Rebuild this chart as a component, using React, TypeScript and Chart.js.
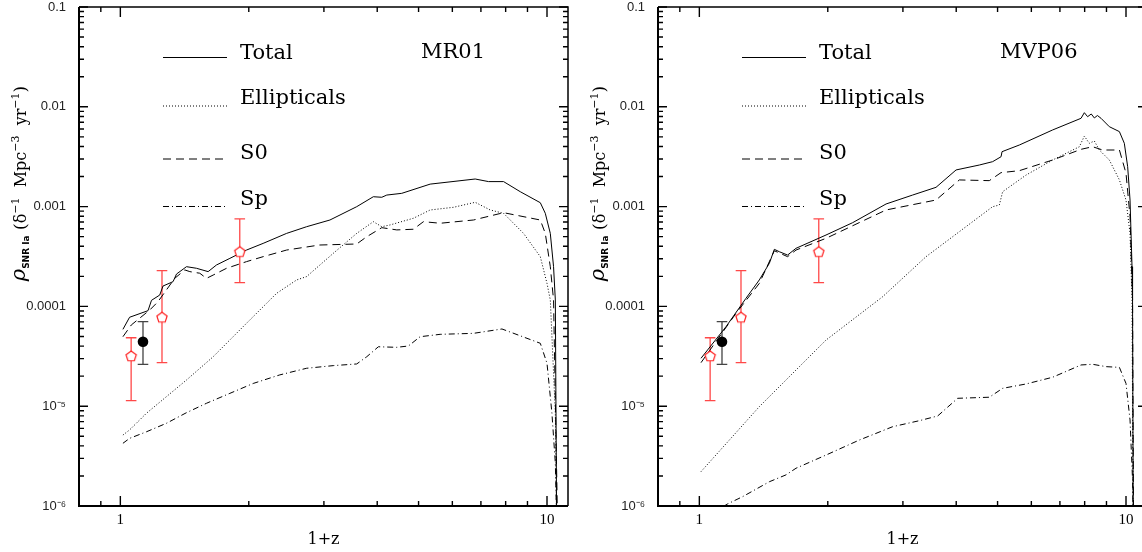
import React, { useEffect, useRef } from 'react';
import { Chart, registerables } from 'chart.js';

Chart.register(...registerables);

// ---------------- data ----------------
const xTickValues = [1, 10];
const xTickLabels = ['1', '10'];
const yTickValues = [1e-6, 1e-5, 1e-4, 1e-3, 1e-2, 1e-1];
const yTickLabels = ['10⁻⁶', '10⁻⁵', '0.0001', '0.001', '0.01', '0.1'];
const xMin = 0.8;
const xMax = 11.2;
const yMin = 1e-6;
const yMax = 0.1;

const seriesLabels = ['Total', 'Ellipticals', 'S0', 'Sp'];
const panelNames = ['MR01', 'MVP06'];
const xTitle = '1+z';

// [1+z, rate] pairs
const mr01Total = [
  [1.014, 5.89e-5], [1.051, 7.78e-5], [1.161, 9.06e-5], [1.183, 1.15e-4], [1.237, 1.3e-4],
  [1.259, 1.6e-4], [1.329, 1.77e-4], [1.354, 2.11e-4], [1.429, 2.5e-4], [1.508, 2.41e-4],
  [1.606, 2.23e-4], [1.68, 2.6e-4], [1.806, 3.03e-4], [1.976, 3.67e-4], [2.161, 4.28e-4],
  [2.453, 5.39e-4], [2.733, 6.29e-4], [3.099, 7.34e-4], [3.581, 9.98e-4], [3.917, 1.256e-3],
  [4.1, 1.24e-3], [4.212, 1.305e-3], [4.566, 1.358e-3], [5.323, 1.68e-3], [6.788, 1.89e-3],
  [7.294, 1.78e-3], [7.911, 1.78e-3], [8.657, 1.41e-3], [9.645, 1.094e-3], [9.908, 8.57e-4],
  [10.18, 5.39e-4], [10.36, 2.5e-4], [10.46, 1.16e-4], [10.54, 5e-7],
];
const mr01Ell = [
  [1.014, 5.14e-6], [1.051, 5.78e-6], [1.151, 8.49e-6], [1.282, 1.245e-5], [1.429, 1.83e-5],
  [1.65, 3.13e-5], [1.976, 6.78e-5], [2.202, 1.074e-4], [2.323, 1.35e-4], [2.589, 1.84e-4],
  [2.733, 1.99e-4], [3.155, 3.4e-4], [3.581, 5.39e-4], [3.917, 7.06e-4], [4.1, 6.29e-4],
  [4.287, 6.55e-4], [4.862, 7.64e-4], [5.323, 9.25e-4], [6.037, 9.84e-4], [6.788, 1.104e-3],
  [7.36, 9.25e-4], [7.911, 8.57e-4], [8.81, 5.39e-4], [9.645, 3.15e-4], [10.0, 1.7e-4],
  [10.18, 1.16e-4], [10.46, 8.55e-6], [10.54, 5e-7],
];
const mr01S0 = [
  [1.014, 4.97e-5], [1.061, 6.52e-5], [1.172, 9.2e-5], [1.225, 1.114e-4], [1.282, 1.46e-4],
  [1.341, 1.91e-4], [1.416, 2.32e-4], [1.455, 2.23e-4], [1.535, 2.15e-4], [1.592, 1.91e-4],
  [1.65, 2.06e-4], [1.774, 2.41e-4], [1.976, 2.81e-4], [2.161, 3.15e-4], [2.453, 3.67e-4],
  [2.927, 4.12e-4], [3.581, 4.22e-4], [3.78, 4.99e-4], [4.1, 6.15e-4], [4.445, 5.84e-4],
  [4.862, 5.93e-4], [5.133, 7.06e-4], [5.618, 6.81e-4], [6.724, 7.34e-4], [7.911, 8.69e-4],
  [9.645, 7.34e-4], [9.908, 5.39e-4], [10.18, 2.5e-4], [10.36, 1.16e-4], [10.6, 5e-7],
];
const mr01Sp = [
  [1.014, 4.25e-6], [1.051, 4.76e-6], [1.151, 5.54e-6], [1.282, 6.74e-6], [1.429, 8.61e-6],
  [1.592, 1.07e-5], [1.806, 1.345e-5], [2.048, 1.69e-5], [2.365, 2.06e-5], [2.733, 2.4e-5],
  [3.155, 2.55e-5], [3.581, 2.65e-5], [3.78, 3.13e-5], [4.025, 3.94e-5], [4.445, 3.89e-5],
  [4.732, 4.01e-5], [5.042, 4.97e-5], [5.618, 5.25e-5], [6.724, 5.37e-5], [7.842, 5.94e-5],
  [9.645, 4.27e-5], [10.0, 2.69e-5], [10.27, 8.49e-6], [10.46, 2.68e-6], [10.55, 5e-7],
];

const mvp06Total = [
  [1.009, 3.02e-5], [1.155, 6.27e-5], [1.286, 1.205e-4], [1.382, 1.84e-4], [1.459, 2.7e-4],
  [1.499, 3.73e-4], [1.54, 3.53e-4], [1.61, 3.27e-4], [1.685, 3.82e-4], [1.981, 5.19e-4],
  [2.287, 6.9e-4], [2.739, 1.062e-3], [3.161, 1.305e-3], [3.587, 1.56e-3], [3.997, 2.33e-3],
  [4.531, 2.61e-3], [4.869, 2.82e-3], [5.095, 3.16e-3], [5.122, 3.55e-3], [5.623, 4.14e-3],
  [6.73, 5.86e-3], [7.845, 7.67e-3], [7.987, 8.73e-3], [8.128, 7.96e-3], [8.29, 8.47e-3],
  [8.43, 7.73e-3], [8.57, 8.18e-3], [8.74, 7.67e-3], [9.14, 6.32e-3], [9.65, 5.64e-3],
  [9.91, 4.31e-3], [10.09, 2.51e-3], [10.22, 1.164e-3], [10.33, 2.5e-4], [10.36, 1.16e-4],
  [10.4, 5e-7],
];
const mvp06Ell = [
  [1.009, 2.21e-6], [1.382, 9.89e-6], [1.981, 4.6e-5], [2.689, 1.25e-4], [3.399, 3.15e-4],
  [4.869, 9.98e-4], [5.048, 1.037e-3], [5.139, 1.41e-3], [5.831, 2.07e-3], [6.73, 2.93e-3],
  [7.775, 3.98e-3], [7.987, 5.09e-3], [8.2, 4.31e-3], [8.43, 4.54e-3], [8.66, 3.69e-3],
  [9.14, 2.93e-3], [9.65, 1.85e-3], [10.0, 1.164e-3], [10.22, 5.39e-4], [10.33, 1.16e-4],
  [10.4, 5e-7],
];
const mvp06S0 = [
  [1.009, 2.73e-5], [1.219, 8.53e-5], [1.382, 1.7e-4], [1.499, 3.61e-4], [1.61, 3.15e-4],
  [1.685, 3.67e-4], [1.981, 4.81e-4], [2.739, 9.25e-4], [3.587, 1.164e-3], [4.068, 1.85e-3],
  [4.782, 1.82e-3], [5.095, 2.19e-3], [5.623, 2.29e-3], [6.73, 2.93e-3], [7.845, 3.75e-3],
  [8.35, 3.98e-3], [8.82, 3.69e-3], [9.65, 3.69e-3], [10.0, 2.16e-3], [10.22, 7.93e-4],
  [10.36, 1.16e-4], [10.42, 5e-7],
];
const mvp06Sp = [
  [1.009, 7.2e-7], [1.165, 1.05e-6], [1.263, 1.24e-6], [1.459, 1.75e-6], [1.596, 2.05e-6],
  [1.685, 2.39e-6], [1.981, 3.24e-6], [2.371, 4.58e-6], [2.838, 6.23e-6], [3.279, 7.16e-6],
  [3.619, 7.98e-6], [4.031, 1.2e-5], [4.782, 1.23e-5], [5.139, 1.51e-5], [5.831, 1.67e-5],
  [6.73, 1.95e-5], [7.845, 2.59e-5], [8.35, 2.63e-5], [8.98, 2.49e-5], [9.65, 2.45e-5],
  [10.0, 1.69e-5], [10.22, 7.28e-6], [10.36, 1.82e-6], [10.4, 5e-7],
];

// observed rates (open red pentagons and filled black circle)
const obsOpenX = [1.06, 1.252, 1.905];
const obsOpenY = [3.18e-5, 7.78e-5, 3.53e-4];
const obsOpenLow = [1.135e-5, 2.73e-5, 1.73e-4];
const obsOpenHigh = [4.85e-5, 2.28e-4, 7.52e-4];
const obsFilledX = [1.13];
const obsFilledY = [4.43e-5];
const obsFilledLow = [2.63e-5];
const obsFilledHigh = [7.03e-5];

const panelCurves = [
  [mr01Total, mr01Ell, mr01S0, mr01Sp],
  [mvp06Total, mvp06Ell, mvp06S0, mvp06Sp],
];

// ---------------- styles ----------------
const seriesDash = [[], [1, 2], [8, 5], [6, 3, 1, 3]];
const serifFont = '"DejaVu Serif", serif';

let pentagonCache: HTMLCanvasElement | null = null;
function pentagon(): HTMLCanvasElement {
  if (pentagonCache) return pentagonCache;
  const c = document.createElement('canvas');
  c.width = 14;
  c.height = 14;
  const g = c.getContext('2d')!;
  g.beginPath();
  for (let k = 0; k < 5; k++) {
    const a = -Math.PI / 2 + (k * 2 * Math.PI) / 5;
    const px = 7 + 5.4 * Math.cos(a);
    const py = 7.4 + 5.4 * Math.sin(a);
    if (k === 0) g.moveTo(px, py);
    else g.lineTo(px, py);
  }
  g.closePath();
  g.fillStyle = '#fff';
  g.fill();
  g.strokeStyle = '#ff2020';
  g.lineWidth = 1.2;
  g.stroke();
  pentagonCache = c;
  return c;
}

const errorBarPlugin = {
  id: 'errorBars',
  beforeDatasetsDraw(chart: any) {
    const { ctx } = chart;
    const xs = chart.scales.x;
    const ys = chart.scales.y;
    const groups = [
      { X: obsOpenX, lo: obsOpenLow, hi: obsOpenHigh, color: 'rgba(255,40,40,0.85)' },
      { X: obsFilledX, lo: obsFilledLow, hi: obsFilledHigh, color: '#444' },
    ];
    ctx.save();
    ctx.setLineDash([]);
    ctx.lineWidth = 1.3;
    for (const g of groups) {
      ctx.strokeStyle = g.color;
      g.X.forEach((x, i) => {
        const px = xs.getPixelForValue(x);
        const p1 = ys.getPixelForValue(g.lo[i]);
        const p2 = ys.getPixelForValue(g.hi[i]);
        ctx.beginPath();
        ctx.moveTo(px, p1);
        ctx.lineTo(px, p2);
        ctx.moveTo(px - 5.3, p1);
        ctx.lineTo(px + 5.3, p1);
        ctx.moveTo(px - 5.3, p2);
        ctx.lineTo(px + 5.3, p2);
        ctx.stroke();
      });
    }
    ctx.restore();
  },
};

const framePlugin = {
  id: 'frame',
  afterDatasetsDraw(chart: any) {
    const { ctx, chartArea } = chart;
    const { left, right, top, bottom } = chartArea;
    const xs = chart.scales.x;
    const ys = chart.scales.y;
    ctx.save();
    ctx.setLineDash([]);
    ctx.strokeStyle = '#000';
    ctx.lineWidth = 2;
    ctx.beginPath();
    ctx.moveTo(left, top);
    ctx.lineTo(left, bottom);
    ctx.lineTo(right, bottom);
    ctx.stroke();
    ctx.lineWidth = 1.5;
    ctx.beginPath();
    ctx.moveTo(left, top);
    ctx.lineTo(right, top);
    ctx.lineTo(right, bottom);
    ctx.stroke();
    ctx.lineWidth = 1.4;
    ctx.beginPath();
    for (let d = -6; d <= -1; d++) {
      for (let m = 1; m <= 9; m++) {
        const v = m * Math.pow(10, d);
        if (v > yMax * 1.0001) break;
        const py = ys.getPixelForValue(v);
        const len = m === 1 ? 9 : 5;
        ctx.moveTo(left, py);
        ctx.lineTo(left + len, py);
        ctx.moveTo(right, py);
        ctx.lineTo(right - len, py);
      }
    }
    for (let d = -1; d <= 1; d++) {
      for (let m = 1; m <= 9; m++) {
        const v = m * Math.pow(10, d);
        if (v < xMin || v > xMax) continue;
        const px = xs.getPixelForValue(v);
        if (px - left < 4 || right - px < 4) continue;
        const len = m === 1 ? 10 : 5;
        ctx.moveTo(px, bottom);
        ctx.lineTo(px, bottom - len);
        ctx.moveTo(px, top);
        ctx.lineTo(px, top + len);
      }
    }
    ctx.stroke();
    ctx.restore();
  },
};

function makeDecorPlugin(panel: number) {
  return {
    id: 'decor',
    afterDraw(chart: any) {
      const { ctx, chartArea } = chart;
      const ca = chartArea;
      ctx.save();
      // in-plot key
      const lineY = [50.5, 99, 152, 199.5];
      const textY = [51.5, 96.5, 151.5, 197.5];
      ctx.strokeStyle = '#000';
      ctx.lineWidth = 1;
      ctx.fillStyle = '#000';
      ctx.font = `21px ${serifFont}`;
      ctx.textBaseline = 'alphabetic';
      ctx.textAlign = 'left';
      chart.data.datasets.slice(0, 4).forEach((ds: any, i: number) => {
        ctx.setLineDash(ds.borderDash || []);
        ctx.beginPath();
        ctx.moveTo(ca.left + 84, ca.top + lineY[i]);
        ctx.lineTo(ca.left + 148, ca.top + lineY[i]);
        ctx.stroke();
        ctx.fillText(ds.label, ca.left + 161, ca.top + textY[i]);
      });
      ctx.setLineDash([]);
      ctx.fillText(panelNames[panel], ca.left + 342, ca.top + 51);

      // y-axis title, rotated
      const parts = [
        { t: 'ρ', f: `italic 21px ${serifFont}`, dy: -1 },
        { t: 'SNR Ia', f: 'bold 9px "DejaVu Sans", sans-serif', dy: 3 },
        { t: ' (', f: `17px ${serifFont}`, dy: 0 },
        { t: 'δ', f: `16px ${serifFont}`, dy: 0 },
        { t: '−1', f: `11px ${serifFont}`, dy: -7 },
        { t: '  Mpc', f: `16px ${serifFont}`, dy: 0 },
        { t: '−3', f: `11px ${serifFont}`, dy: -7 },
        { t: '  yr', f: `16px ${serifFont}`, dy: 0 },
        { t: '−1', f: `11px ${serifFont}`, dy: -7 },
        { t: ')', f: `17px ${serifFont}`, dy: 0 },
      ];
      let total = 0;
      const widths = parts.map((p) => {
        ctx.font = p.f;
        const w = ctx.measureText(p.t).width;
        total += w;
        return w;
      });
      const cy = (ca.top + ca.bottom) / 2 - 73;
      ctx.translate(26, cy + total / 2);
      ctx.rotate(-Math.PI / 2);
      let x = 0;
      parts.forEach((p, i) => {
        ctx.font = p.f;
        ctx.fillText(p.t, x, p.dy);
        x += widths[i];
      });
      ctx.restore();
    },
  };
}

function makeConfig(panel: number): any {
  const curves = panelCurves[panel];
  const datasets: any[] = curves.map((pts, i) => ({
    type: 'line',
    label: seriesLabels[i],
    data: pts.map(([x, y]) => ({ x, y })),
    borderColor: '#000',
    borderWidth: 1,
    borderDash: seriesDash[i],
    pointRadius: 0,
    tension: 0,
    fill: false,
    order: 1,
  }));
  datasets.push({
    type: 'line',
    label: 'obs-open',
    data: obsOpenX.map((x, i) => ({ x, y: obsOpenY[i] })),
    showLine: false,
    pointStyle: pentagon(),
    pointRadius: 6,
    order: 0,
  });
  datasets.push({
    type: 'line',
    label: 'obs-filled',
    data: obsFilledX.map((x, i) => ({ x, y: obsFilledY[i] })),
    showLine: false,
    pointStyle: 'circle',
    pointRadius: 5.3,
    pointBorderWidth: 0,
    backgroundColor: '#000',
    borderColor: '#000',
    order: 0,
  });
  return {
    type: 'line',
    data: { datasets },
    options: {
      responsive: false,
      animation: false,
      devicePixelRatio: 1,
      events: [],
      layout: { padding: { top: 7, right: 12, bottom: 0, left: 0 } },
      plugins: { legend: { display: false }, tooltip: { enabled: false } },
      scales: {
        x: {
          type: 'logarithmic',
          position: 'bottom',
          min: xMin,
          max: xMax,
          afterBuildTicks: (s: any) => {
            s.ticks = xTickValues.map((v) => ({ value: v }));
          },
          afterFit: (s: any) => {
            s.height = 46;
            s.paddingLeft = 0;
            s.paddingRight = 0;
          },
          grid: { display: false, drawTicks: false },
          border: { display: false },
          ticks: {
            autoSkip: false,
            maxRotation: 0,
            padding: 5,
            color: '#000',
            font: { family: '"Liberation Serif", serif', size: 15 },
            callback: (_v: any, i: number) => xTickLabels[i],
          },
          title: {
            display: true,
            text: xTitle,
            color: '#000',
            font: { family: serifFont, size: 16 },
            padding: { top: 0, bottom: 3 },
          },
        },
        y: {
          type: 'logarithmic',
          position: 'left',
          min: yMin,
          max: yMax,
          afterBuildTicks: (s: any) => {
            s.ticks = yTickValues.map((v) => ({ value: v }));
          },
          afterFit: (s: any) => {
            s.width = 79;
            s.paddingTop = 0;
            s.paddingBottom = 0;
          },
          grid: { display: false, drawTicks: false },
          border: { display: false },
          ticks: {
            autoSkip: false,
            padding: 13,
            color: '#222',
            font: { family: '"Liberation Sans", sans-serif', size: 13 },
            callback: (_v: any, i: number) => yTickLabels[i],
          },
        },
      },
    },
    plugins: [errorBarPlugin, framePlugin, makeDecorPlugin(panel)],
  };
}

export default function App() {
  const leftRef = useRef<HTMLCanvasElement>(null);
  const rightRef = useRef<HTMLCanvasElement>(null);
  useEffect(() => {
    const c1 = new Chart(leftRef.current!, makeConfig(0));
    const c2 = new Chart(rightRef.current!, makeConfig(1));
    return () => {
      c1.destroy();
      c2.destroy();
    };
  }, []);
  return (
    <div
      style={{
        position: 'fixed',
        left: 0,
        top: 0,
        width: 1142,
        height: 552,
        overflow: 'hidden',
        background: '#fff',
      }}
    >
      <canvas
        ref={leftRef}
        width={580}
        height={552}
        style={{ position: 'absolute', left: 0, top: 0, width: 580, height: 552, display: 'block' }}
      />
      <canvas
        ref={rightRef}
        width={580}
        height={552}
        style={{ position: 'absolute', left: 579, top: 0, width: 580, height: 552, display: 'block' }}
      />
    </div>
  );
}
